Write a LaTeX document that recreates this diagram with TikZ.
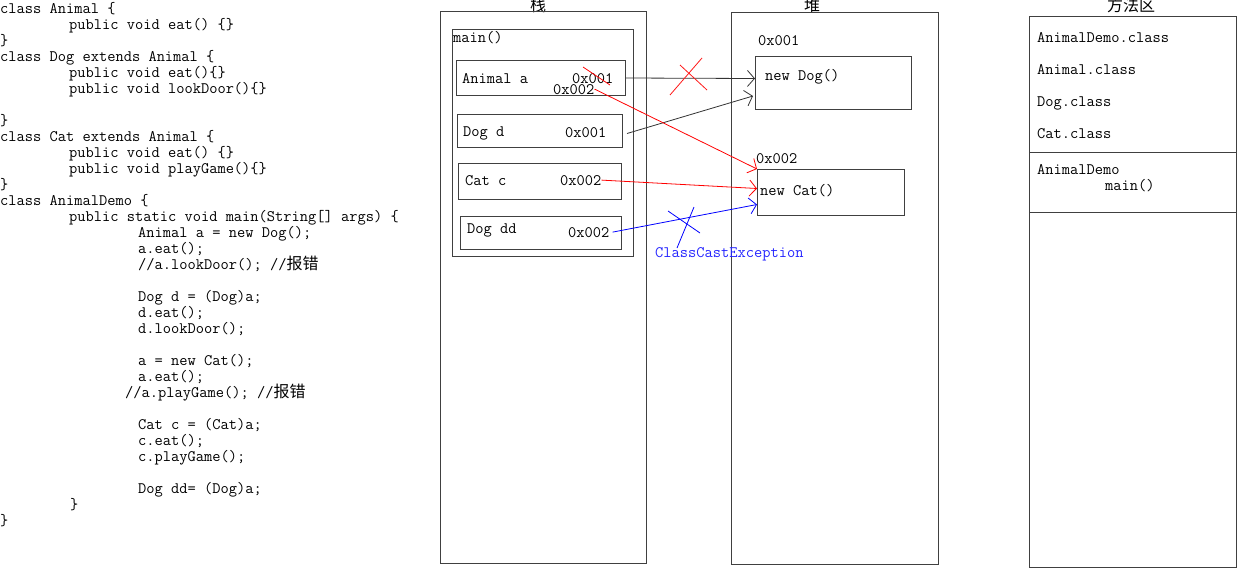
\documentclass[tikz,border=0pt]{standalone}
\usepackage{fontspec}
\newfontfamily\cjk{Noto Sans CJK SC}
\usetikzlibrary{arrows.meta}
\newcommand\codefont{\fontsize{16}{16}\selectfont\ttfamily}
\begin{document}
\begin{tikzpicture}[x=1pt,y=-1pt,
  codeline/.style={anchor=base west, inner sep=0pt, font=\codefont},
  title/.style={anchor=base, inner sep=0pt, font=\fontsize{16}{16}\selectfont\cjk},
  area/.style={draw=black!75, line width=1.2pt, anchor=north west, inner sep=0pt},
  cell/.style={draw=black!75, line width=1pt, anchor=north west, inner sep=0pt},
  ptr/.style={line width=0.8pt, -{Straight Barb[length=7pt,width=16pt,line width=0.8pt]}},
  cross/.style={line width=0.8pt}
]
\useasboundingbox (0,0) rectangle (1243,573);
\fill[white] (0,0) rectangle (1243,573);

% ---------- code ----------
\node[codeline] (c1)  at (0,13)   {class Animal \{};
\node[codeline] (c2)  at (69,29)  {public void eat() \{\}};
\node[codeline] (c3)  at (0,45)   {\}};
\node[codeline] (c4)  at (0,61)   {class Dog extends Animal \{};
\node[codeline] (c5)  at (69,77)  {public void eat()\{\}};
\node[codeline] (c6)  at (69,93)  {public void lookDoor()\{\}};
\node[codeline] (c8)  at (0,125)  {\}};
\node[codeline] (c9)  at (0,141)  {class Cat extends Animal \{};
\node[codeline] (c10) at (69,157) {public void eat() \{\}};
\node[codeline] (c11) at (69,173) {public void playGame()\{\}};
\node[codeline] (c12) at (0,189)  {\}};
\node[codeline] (c13) at (0,205)  {class AnimalDemo \{};
\node[codeline] (c14) at (69,221) {public static void main(String[] args) \{};
\node[codeline] (c15) at (138,237) {Animal a = new Dog();};
\node[codeline] (c16) at (138,253) {a.eat();};
\node[codeline] (c17) at (138,269) {//a.lookDoor(); //{\cjk 报错}};
\node[codeline] (c19) at (138,301) {Dog d = (Dog)a;};
\node[codeline] (c20) at (138,317) {d.eat();};
\node[codeline] (c21) at (138,333) {d.lookDoor();};
\node[codeline] (c23) at (138,365) {a = new Cat();};
\node[codeline] (c24) at (138,381) {a.eat();};
\node[codeline] (c25) at (125,397) {//a.playGame(); //{\cjk 报错}};
\node[codeline] (c27) at (138,429) {Cat c = (Cat)a;};
\node[codeline] (c28) at (138,445) {c.eat();};
\node[codeline] (c29) at (138,461) {c.playGame();};
\node[codeline] (c31) at (138,493) {Dog dd= (Dog)a;};
\node[codeline] (c32) at (70,509)  {\}};
\node[codeline] (c33) at (0,525)   {\}};

% ---------- stack ----------
\node[title] (tstack) at (538,11) {栈};
\node[area, minimum width=206pt, minimum height=552pt] (stack) at (440,11) {};
\node[cell, minimum width=181pt, minimum height=227pt] (mainf) at (452,29) {};
\node[codeline] (mainlbl) at (453,42) {main()};
\node[cell, minimum width=169pt, minimum height=35pt] (va) at (456,60) {};
\node[cell, minimum width=165pt, minimum height=33pt] (vd) at (457,114) {};
\node[cell, minimum width=163pt, minimum height=36pt] (vc) at (458,163) {};
\node[cell, minimum width=161pt, minimum height=33pt] (vdd) at (460,216) {};
\node[codeline] (vaname) at (462,83) {Animal a};
\node[codeline] (vaold) at (572,83) {0x001};
\node[codeline] (vanew) at (553,94) {0x002};
\node[codeline] (vdname) at (463,136) {Dog d};
\node[codeline] (vdaddr) at (565,137) {0x001};
\node[codeline] (vcname) at (465,185) {Cat c};
\node[codeline] (vcaddr) at (560,185) {0x002};
\node[codeline] (vddname) at (467,233) {Dog dd};
\node[codeline] (vddaddr) at (568,237) {0x002};

% ---------- heap ----------
\node[title] (theap) at (812,11) {堆};
\node[area, minimum width=207pt, minimum height=552pt] (heap) at (731,12) {};
\node[codeline] (dogaddr) at (758,45) {0x001};
\node[cell, minimum width=156pt, minimum height=53pt] (dogobj) at (755,56) {};
\node[codeline] (doglbl) at (765,80) {new Dog()};
\node[codeline] (cataddr) at (756,163) {0x002};
\node[cell, minimum width=147pt, minimum height=46pt] (catobj) at (757,169) {};
\node[codeline] (catlbl) at (760,195) {new Cat()};
\node[codeline, text=blue!85!white] (cce) at (655,257) {ClassCastException};

% ---------- method area ----------
\node[title] (tmethod) at (1131,11) {方法区};
\node[area, minimum width=207pt, minimum height=551pt] (method) at (1029,16) {};
\node[codeline] (m1) at (1037,42)  {AnimalDemo.class};
\node[codeline] (m2) at (1037,74)  {Animal.class};
\node[codeline] (m3) at (1037,106) {Dog.class};
\node[codeline] (m4) at (1037,138) {Cat.class};
\draw[black!75, line width=1pt] (method.west |- 0,152) -- (method.east |- 0,152);
\node[codeline] (m5) at (1037,174) {AnimalDemo};
\node[codeline] (m6) at (1105,190) {main()};
\draw[black!75, line width=1pt] (method.west |- 0,212) -- (method.east |- 0,212);

% ---------- connectors ----------
\draw[ptr, black!80] (va.east) -- ([yshift=4.5pt]dogobj.west);
\draw[cross, red!90!white] (680,65) -- (707,90);
\draw[cross, red!90!white] (670,95) -- (702,58);
\draw[ptr, black!80] ([xshift=4pt,yshift=-2.5pt]vd.east) -- ([xshift=-2pt,yshift=14pt]dogobj.south west);
\draw[cross, red] (583,67) -- (610,85);
\draw[ptr, red] (vanew.east) -- (catobj.north west);
\draw[ptr, red] (vcaddr.east) -- ([yshift=4pt]catobj.west);
\draw[ptr, blue] ([xshift=3pt]vddaddr.east) -- ([yshift=-12pt]catobj.west);
\draw[cross, blue] (668,211) -- (700,233);
\draw[cross, blue] (677,248) -- (694,207);
\end{tikzpicture}
\end{document}
